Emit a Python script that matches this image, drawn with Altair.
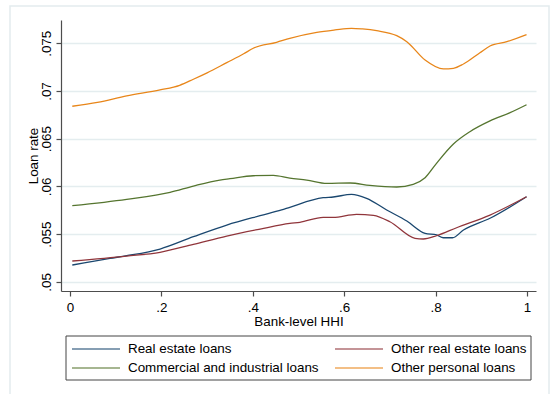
import altair as alt
import pandas as pd

# Bank-level HHI grid and smoothed loan rates for each loan category
re_x = [0.005, 0.0875, 0.124, 0.197, 0.27, 0.343, 0.416, 0.463, 0.481, 0.554, 0.576,
        0.616, 0.649, 0.693, 0.737, 0.777, 0.802, 0.817, 0.837, 0.861, 0.919, 0.999]
re_y = [0.05176, 0.05246, 0.05274, 0.05344, 0.05473, 0.05595, 0.05693, 0.05753, 0.05781,
        0.05882, 0.05889, 0.05917, 0.05875, 0.05753, 0.05637, 0.05508, 0.05491, 0.05462,
        0.05462, 0.05543, 0.05666, 0.05892]

ore_x = [0.005, 0.124, 0.197, 0.27, 0.343, 0.416, 0.481, 0.503, 0.554, 0.576, 0.627,
         0.664, 0.700, 0.755, 0.773, 0.802, 0.846, 0.919, 0.999]
ore_y = [0.05218, 0.0527, 0.05309, 0.05393, 0.0548, 0.05553, 0.05613, 0.05624, 0.05676,
         0.05676, 0.05708, 0.05697, 0.0563, 0.05456, 0.05449, 0.05483, 0.05567, 0.057, 0.05892]

ci_x = [0.005, 0.124, 0.219, 0.27, 0.328, 0.35, 0.401, 0.445, 0.481, 0.518, 0.562, 0.613,
        0.656, 0.715, 0.751, 0.777, 0.802, 0.839, 0.875, 0.919, 0.963, 0.999]
ci_y = [0.05798, 0.05865, 0.05938, 0.06004, 0.06067, 0.06081, 0.06112, 0.06116, 0.06086,
        0.06067, 0.06032, 0.06036, 0.06011, 0.05994, 0.06022, 0.06091, 0.06242, 0.06444,
        0.06573, 0.06686, 0.06773, 0.06856]

op_x = [0.005, 0.06, 0.124, 0.197, 0.24, 0.27, 0.30, 0.343, 0.38, 0.401, 0.452, 0.481,
        0.54, 0.58, 0.616, 0.64, 0.671, 0.715, 0.737, 0.777, 0.817, 0.839, 0.861, 0.897,
        0.919, 0.956, 0.999]
op_y = [0.0684, 0.0688, 0.06948, 0.07011, 0.0706, 0.07123, 0.0719, 0.07297, 0.0739,
        0.07448, 0.0751, 0.07552, 0.07615, 0.0764, 0.07657, 0.0765, 0.07632, 0.0758,
        0.07517, 0.07325, 0.07231, 0.07238, 0.07283, 0.07401, 0.07472, 0.07517, 0.0759]

series_names = ["Real estate loans", "Other real estate loans",
                "Commercial and industrial loans", "Other personal loans"]
series_colors = ["#1a476f", "#90353b", "#55752f", "#e8861a"]
legend_col = [0, 1, 0, 1]
legend_row = [0, 0, 1, 1]

x_ticks = [0, 0.2, 0.4, 0.6, 0.8, 1]
y_ticks = [0.05, 0.055, 0.06, 0.065, 0.07, 0.075]

frames = []
for name, xs, ys in zip(series_names, [re_x, ore_x, ci_x, op_x], [re_y, ore_y, ci_y, op_y]):
    frames.append(pd.DataFrame({"hhi": xs, "rate": ys, "series": name}))
df = pd.concat(frames, ignore_index=True)
leg_df = pd.DataFrame({"series": series_names, "col": legend_col, "row": legend_row})

FONT = "Liberation Sans"
FS = 13.4
W, H = 475, 271
PAD_L, PAD_T = 61, 20

color = alt.Color("series:N", scale=alt.Scale(domain=series_names, range=series_colors),
                  legend=None)

lines = alt.Chart(df).mark_line(strokeWidth=1.3, interpolate="monotone").encode(
    x=alt.X("hhi:Q", title="Bank-level HHI",
            scale=alt.Scale(domain=[-0.0197, 1.0197], nice=False, zero=False),
            axis=alt.Axis(values=x_ticks, grid=False, tickSize=5, labelPadding=4,
                          labelExpr="replace(format(datum.value, '.1~f'), '0.', '.')",
                          titlePadding=1)),
    y=alt.Y("rate:Q", title="Loan rate",
            scale=alt.Scale(domain=[0.04904, 0.07744], nice=False, zero=False),
            axis=alt.Axis(values=y_ticks, grid=True, tickSize=5, labelPadding=3,
                          labelAngle=270, labelAlign="center", labelBaseline="bottom",
                          labelExpr="replace(format(datum.value, '.3~f'), '0.', '.')",
                          titlePadding=-1)),
    color=color,
)

# light outer border of the graph region
frame = alt.Chart(pd.DataFrame({"k": [0]})).mark_rect(
    fill=None, stroke="#e3ecee", strokeWidth=1.5, clip=False
).encode(
    x=alt.value(10 - PAD_L), x2=alt.value(549 - PAD_L),
    y=alt.value(6 - PAD_T), y2=alt.value(420 - PAD_T),
)

# legend: bordered box with two columns of line keys and labels
leg_box = alt.Chart(pd.DataFrame({"k": [0]})).mark_rect(
    fill="#ffffff", stroke="#444444", strokeWidth=1, clip=False
).encode(
    x=alt.value(66 - PAD_L), x2=alt.value(531 - PAD_L),
    y=alt.value(336 - PAD_T), y2=alt.value(380 - PAD_T),
)
leg_x = alt.X("col:Q", scale=alt.Scale(domain=[0, 1], range=[35, 298]), axis=None)
leg_y = alt.Y("row:Q", scale=alt.Scale(domain=[0, 1], range=[329, 348]), axis=None)
leg_keys = alt.Chart(leg_df).mark_tick(orient="horizontal", size=48, thickness=1.3,
                                       clip=False).encode(x=leg_x, y=leg_y, color=color)
leg_labels = alt.Chart(leg_df).mark_text(
    align="left", baseline="middle", dx=32, font=FONT, fontSize=FS, color="#000000", clip=False
).encode(x=leg_x, y=leg_y, text="series:N")

legend = alt.layer(leg_box, leg_keys, leg_labels)

chart = alt.layer(frame, lines, legend).resolve_scale(
    x="independent", y="independent"
).properties(
    width=W, height=H,
    autosize=alt.AutoSizeParams(type="none"),
    padding={"left": PAD_L, "top": PAD_T, "right": 553 - PAD_L - W, "bottom": 394 - PAD_T - H},
    background="#ffffff",
).configure_view(stroke=None).configure_axis(
    labelFont=FONT, titleFont=FONT, labelFontSize=FS, titleFontSize=FS,
    labelColor="#000000", titleColor="#000000", titleFontWeight="normal",
    domainColor="#4d4d4d", tickColor="#4d4d4d", domainWidth=1.2, tickWidth=1.2,
    gridColor="#e4edef", gridWidth=1.3,
)

chart.save("out.html", embed_options={"renderer": "svg", "actions": False})
